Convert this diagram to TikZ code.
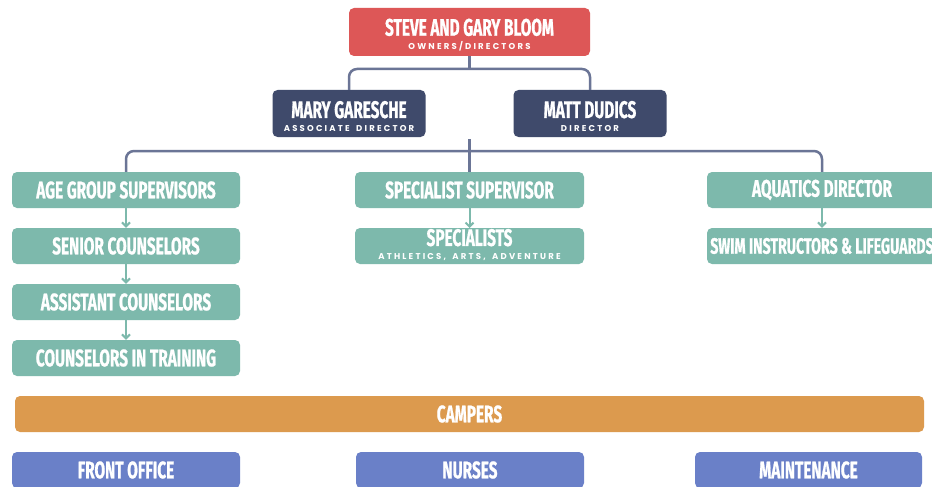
\documentclass[tikz,border=0pt]{standalone}
\usepackage{fontspec}
\setmainfont{Fira Sans}
\newfontfamily\cond{Fira Sans}[FakeStretch=0.64,FakeBold=0.8]
\newfontfamily\spaced{Poppins}[LetterSpace=26,WordSpace=1.6]
\usetikzlibrary{arrows.meta}
\definecolor{cred}{HTML}{DD5757}
\definecolor{cnavy}{HTML}{3F4A6B}
\definecolor{cteal}{HTML}{7DB9AC}
\definecolor{corange}{HTML}{DC9A4E}
\definecolor{cblue}{HTML}{6A80C8}
\definecolor{cline}{HTML}{6B7596}
\tikzset{
  box/.style={rounded corners=5pt, inner sep=0pt, text=white, align=center,
    font=\cond\bfseries\fontsize{24}{24}\selectfont},
  twoline/.style={yshift=-3pt},
  conn/.style={draw=cline, line width=2.5pt, rounded corners=8pt},
  arr/.style={draw=cteal, line width=2pt, -{Straight Barb[length=4pt,width=8pt]}},
}
\newcommand{\subline}[1]{\\[-10pt]{\spaced\fontsize{8.5}{9}\selectfont #1}}
\begin{document}
\begin{tikzpicture}[x=1pt,y=-1pt]
\useasboundingbox[fill=white] (0,0) rectangle (932,487);
% top
\fill[cred, rounded corners=5pt] (349,8) rectangle (590,56);
\node[box, twoline] (owners) at (469.5,32) {STEVE AND GARY BLOOM\subline{OWNERS/DIRECTORS}};
\coordinate (ownersS) at (469.5,56);
\fill[cnavy, rounded corners=5pt] (272.5,90) rectangle (425.5,137);
\node[box, twoline] (mary) at (349,113.5) {MARY GARESCHE\subline{ASSOCIATE DIRECTOR}};
\coordinate (maryN) at (349,90);
\fill[cnavy, rounded corners=5pt] (513.5,90) rectangle (666.5,137);
\node[box, twoline] (matt) at (590,113.5) {MATT DUDICS\subline{DIRECTOR}};
\coordinate (mattN) at (590,90);
% left column
\node[box, fill=cteal, minimum width=228pt, minimum height=36pt] (age) at (126,190) {AGE GROUP SUPERVISORS};
\node[box, fill=cteal, minimum width=228pt, minimum height=36pt] (senior) at (126,246) {SENIOR COUNSELORS};
\node[box, fill=cteal, minimum width=228pt, minimum height=36pt] (assist) at (126,302) {ASSISTANT COUNSELORS};
\node[box, fill=cteal, minimum width=228pt, minimum height=36pt] (cit) at (126,358) {COUNSELORS IN TRAINING};
% middle column
\node[box, fill=cteal, minimum width=229pt, minimum height=36pt] (specsup) at (469.5,190) {SPECIALIST SUPERVISOR};
\fill[cteal, rounded corners=5pt] (355,228) rectangle (584,264);
\node[box, yshift=1pt] (spec) at (469.5,246) {SPECIALISTS\subline{ATHLETICS, ARTS, ADVENTURE}};
\coordinate (specN) at (469.5,228);
% right column
\node[box, fill=cteal, minimum width=230pt, minimum height=36pt] (aqua) at (822,190) {AQUATICS DIRECTOR};
\node[box, fill=cteal, minimum width=230pt, minimum height=36pt, font=\cond\bfseries\fontsize{22.2}{24}\selectfont] (swim) at (822,246) {SWIM INSTRUCTORS \& LIFEGUARDS};
% campers and support
\node[box, fill=corange, minimum width=909pt, minimum height=36pt] (campers) at (469.5,414) {CAMPERS};
\node[box, fill=cblue, minimum width=228pt, minimum height=36pt] (front) at (126,470) {FRONT OFFICE};
\node[box, fill=cblue, minimum width=228pt, minimum height=36pt] (nurses) at (470,470) {NURSES};
\node[box, fill=cblue, minimum width=227pt, minimum height=36pt] (maint) at (808.5,470) {MAINTENANCE};
% connectors
\draw[conn] (ownersS) -- (ownersS |- 0,69);
\draw[conn] (maryN) -- (maryN |- 0,69) -- (mattN |- 0,69) -- (mattN);
\coordinate (junction) at (469.5,139);
\draw[conn] (junction) -- (specsup.north);
\draw[conn] (age.north) -- (age.north |- 0,151) -- (aqua.north |- 0,151) -- (aqua.north);
% arrows
\draw[arr] (age.south) -- (senior.north);
\draw[arr] (senior.south) -- (assist.north);
\draw[arr] (assist.south) -- (cit.north);
\draw[arr] (specsup.south) -- (specN);
\draw[arr] (aqua.south) -- (swim.north);
\end{tikzpicture}
\end{document}
